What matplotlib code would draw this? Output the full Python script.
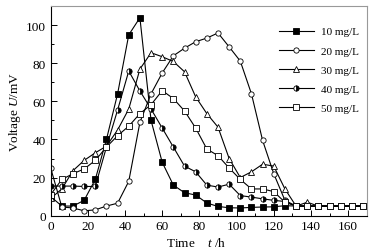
import numpy as np
import matplotlib
matplotlib.use("Agg")
import matplotlib.pyplot as plt
from matplotlib.ticker import MultipleLocator

plt.rcParams['font.family'] = ['Liberation Serif', 'DejaVu Serif']
plt.rcParams['mathtext.fontset'] = 'custom'
plt.rcParams['mathtext.rm'] = 'Liberation Serif'
plt.rcParams['mathtext.it'] = 'Liberation Serif:italic'

# sampling time (h)
hours = list(range(0, 169, 6))

v10 = [10, 5, 5, 8, 19, 40, 64, 95, 104, 50, 28, 16, 12, 10.8, 6.6, 4.8, 4.1, 4,
       4.3, 4.5, 4.6, 5.2, 5, 5, 5, 5, 5, 5, 5]
v20 = [25, 4.5, 4, 2.5, 3, 5, 6.5, 18, 49, 64, 75, 84, 88, 91.4, 93.3, 96, 88.7,
       81.2, 64, 39.5, 22, 8, 5, 5, 5, 5, 5, 5, 5]
v30 = [9, 14, 23.6, 29, 33, 36.5, 45, 56, 77, 85.6, 83.5, 81, 75.6, 62.4, 53.6,
       46.5, 30, 20, 23, 27, 26, 14, 5, 7, 5, 5, 5, 5, 5]
v40 = [15.5, 15.5, 15.5, 15.3, 15.3, 36, 55.5, 76, 65.5, 56, 46, 36, 26, 23, 16,
       15, 16.5, 10.5, 9.7, 8.8, 8, 7.4, 5, 5, 5, 5, 5, 5, 5]
v50 = [11, 19, 22, 24.5, 29, 36, 42, 47, 53.6, 58.3, 65.7, 61.5, 55, 46, 35, 31.5,
       25, 19, 14, 14, 12.6, 7, 5, 5, 5, 5, 5, 5, 5]

labels = ['10 mg/L', '20 mg/L', '30 mg/L', '40 mg/L', '50 mg/L']
series = [v10, v20, v30, v40, v50]
styles = [
    dict(marker='s', markerfacecolor='black'),
    dict(marker='o', markerfacecolor='white'),
    dict(marker='^', markerfacecolor='white'),
    dict(marker='o', markerfacecolor='black', fillstyle='right',
         markerfacecoloralt='white'),
    dict(marker='s', markerfacecolor='white'),
]

fig = plt.figure(figsize=(3.81, 2.53), dpi=100)
ax = fig.add_axes([0.133, 0.144, 0.8295, 0.827])

for vals, lab, st in zip(series, labels, styles):
    ax.plot(hours, vals, color='black', lw=0.8, markersize=3.8,
            markeredgecolor='black', markeredgewidth=0.6, label=lab, **st)

ax.set_xlim(0, 170)
ax.set_ylim(0, 110)
ax.xaxis.set_major_locator(MultipleLocator(20))
ax.xaxis.set_minor_locator(MultipleLocator(10))
ax.yaxis.set_major_locator(MultipleLocator(20))
ax.yaxis.set_minor_locator(MultipleLocator(10))
ax.tick_params(which='both', direction='in', top=False, right=False,
               labelsize=9.5, width=0.7)
ax.tick_params(which='major', length=4)
ax.tick_params(which='minor', length=2)
for s in ['left', 'bottom']:
    ax.spines[s].set_linewidth(0.8)
for s in ['top', 'right']:
    ax.spines[s].set_color('#999999')
    ax.spines[s].set_linewidth(0.8)

ax.set_ylabel('Voltage $U$/mV', fontsize=9.5, labelpad=2)
ax.set_xlabel('Time    $t$ /h', fontsize=9.5)
ax.xaxis.set_label_coords(0.46, -0.1)

ax.legend(loc='upper right', bbox_to_anchor=(1.0, 0.94), frameon=False,
          fontsize=8, handlelength=3.2, handletextpad=0.6, labelspacing=0.85,
          borderaxespad=0.3)

fig.savefig('out.png', dpi=100)
